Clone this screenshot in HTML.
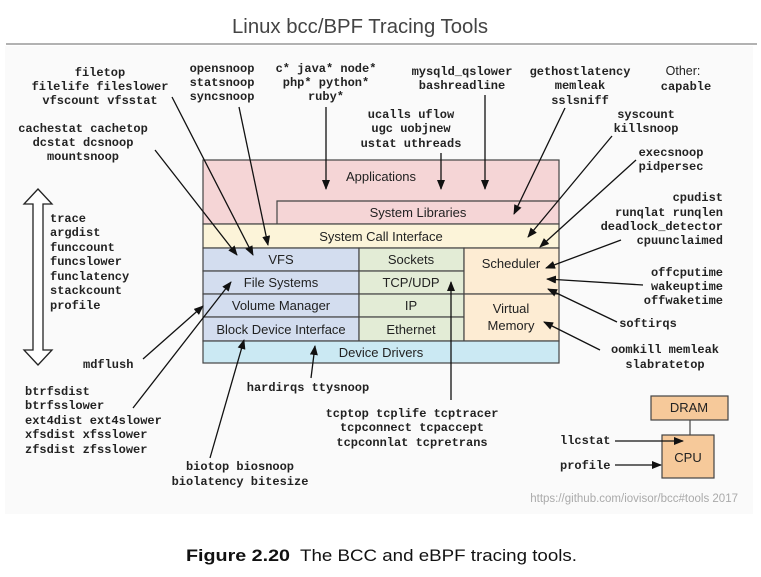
<!DOCTYPE html>
<html><head><meta charset="utf-8"><style>
html,body{margin:0;padding:0;background:#fff;}
svg{display:block;}
.m{font-family:"Liberation Mono",monospace;font-size:12px;font-weight:bold;fill:#222;}
.s{font-family:"Liberation Sans",sans-serif;font-size:13px;fill:#222;}
</style></head><body>
<svg width="761" height="577" viewBox="0 0 761 577" xmlns="http://www.w3.org/2000/svg">
<defs><marker id="a" markerWidth="10" markerHeight="8" refX="9" refY="4" orient="auto" markerUnits="userSpaceOnUse"><path d="M0,0 L10,4 L0,8 z" fill="#111"/></marker></defs>
<rect x="5" y="46" width="748" height="468" fill="#fafafa"/>
<text x="232" y="33" font-family="Liberation Sans,sans-serif" font-size="20" fill="#444" textLength="256" lengthAdjust="spacingAndGlyphs">Linux bcc/BPF Tracing Tools</text>
<line x1="6" y1="44" x2="757" y2="44" stroke="#666" stroke-width="1"/>

<g stroke="#444" stroke-width="1.2">
<rect x="203" y="160" width="356" height="64" fill="#f5d5d6"/>
<path d="M277,224 V201 H559" fill="none"/>
<rect x="203" y="224" width="356" height="24" fill="#fcf4d9"/>
<rect x="203" y="248" width="156" height="23" fill="#d3ddef"/>
<rect x="203" y="271" width="156" height="23" fill="#d3ddef"/>
<rect x="203" y="294" width="156" height="23" fill="#d3ddef"/>
<rect x="203" y="317" width="156" height="24" fill="#d3ddef"/>
<rect x="359" y="248" width="105" height="23" fill="#e3ecd6"/>
<rect x="359" y="271" width="105" height="23" fill="#e3ecd6"/>
<rect x="359" y="294" width="105" height="23" fill="#e3ecd6"/>
<rect x="359" y="317" width="105" height="24" fill="#e3ecd6"/>
<rect x="464" y="248" width="95" height="46" fill="#fdecd3"/>
<rect x="464" y="294" width="95" height="47" fill="#fdecd3"/>
<rect x="203" y="341" width="356" height="22" fill="#cbe9f3"/>
<rect x="651" y="396" width="77" height="24" fill="#f6c99a"/>
<rect x="662" y="435" width="52" height="43" fill="#f6c99a"/>
<line x1="690" y1="420" x2="690" y2="435"/>
</g>
<g class="s" text-anchor="middle">
<text x="381" y="181">Applications</text>
<text x="418" y="217">System Libraries</text>
<text x="381" y="241">System Call Interface</text>
<text x="281" y="264">VFS</text>
<text x="281" y="287">File Systems</text>
<text x="281" y="310">Volume Manager</text>
<text x="281" y="334">Block Device Interface</text>
<text x="411" y="264">Sockets</text>
<text x="411" y="287">TCP/UDP</text>
<text x="411" y="310">IP</text>
<text x="411" y="334">Ethernet</text>
<text x="511" y="268">Scheduler</text>
<text x="511" y="313">Virtual</text>
<text x="511" y="330">Memory</text>
<text x="381" y="357">Device Drivers</text>
<text x="689" y="412">DRAM</text>
<text x="688" y="462">CPU</text>
<text x="683" y="75" font-size="12.5">Other:</text>
</g>

<g class="m" text-anchor="middle">
<text x="100" y="76">filetop</text><text x="100" y="90">filelife fileslower</text><text x="100" y="104">vfscount vfsstat</text>
<text x="83" y="132">cachestat cachetop</text><text x="83" y="146">dcstat dcsnoop</text><text x="83" y="160">mountsnoop</text>
<text x="222" y="72">opensnoop</text><text x="222" y="86">statsnoop</text><text x="222" y="100">syncsnoop</text>
<text x="326" y="72">c* java* node*</text><text x="326" y="86">php* python*</text><text x="326" y="100">ruby*</text>
<text x="411" y="118">ucalls uflow</text><text x="411" y="132">ugc uobjnew</text><text x="411" y="147">ustat uthreads</text>
<text x="462" y="75">mysqld_qslower</text><text x="462" y="89">bashreadline</text>
<text x="580" y="75">gethostlatency</text><text x="580" y="89">memleak</text><text x="580" y="104">sslsniff</text>
<text x="686" y="90">capable</text>
<text x="646" y="118">syscount</text><text x="646" y="132">killsnoop</text>
<text x="671" y="156">execsnoop</text><text x="671" y="170">pidpersec</text>
<text x="648" y="327">softirqs</text>
<text x="665" y="353">oomkill memleak</text><text x="665" y="368">slabratetop</text>
<text x="308" y="391">hardirqs ttysnoop</text>
<text x="412" y="417">tcptop tcplife tcptracer</text><text x="412" y="431">tcpconnect tcpaccept</text><text x="412" y="446">tcpconnlat tcpretrans</text>
<text x="240" y="470">biotop biosnoop</text><text x="240" y="485">biolatency bitesize</text>
</g>
<g class="m" text-anchor="end">
<text x="723" y="201">cpudist</text><text x="723" y="216">runqlat runqlen</text><text x="723" y="230">deadlock_detector</text><text x="723" y="244">cpuunclaimed</text>
<text x="723" y="276">offcputime</text><text x="723" y="290">wakeuptime</text><text x="723" y="304">offwaketime</text>
</g>
<g class="m">
<text x="50" y="222">trace</text><text x="50" y="236">argdist</text><text x="50" y="251">funccount</text><text x="50" y="265">funcslower</text><text x="50" y="280">funclatency</text><text x="50" y="294">stackcount</text><text x="50" y="309">profile</text>
<text x="83" y="368">mdflush</text>
<text x="25" y="395">btrfsdist</text><text x="25" y="409">btrfsslower</text><text x="25" y="424">ext4dist ext4slower</text><text x="25" y="438">xfsdist xfsslower</text><text x="25" y="453">zfsdist zfsslower</text>
<text x="560" y="444">llcstat</text><text x="560" y="469">profile</text>
</g>

<g stroke="#111" stroke-width="1.3" fill="none" marker-end="url(#a)">
<line x1="172" y1="97" x2="253" y2="255"/>
<line x1="155" y1="150" x2="237" y2="255"/>
<line x1="239" y1="107" x2="268" y2="245"/>
<line x1="326" y1="107" x2="326" y2="189"/>
<line x1="441" y1="153" x2="441" y2="189"/>
<line x1="485" y1="95" x2="485" y2="189"/>
<line x1="565" y1="108" x2="514" y2="214"/>
<line x1="612" y1="136" x2="528" y2="237"/>
<line x1="636" y1="160" x2="540" y2="247"/>
<line x1="621" y1="240" x2="546" y2="268"/>
<line x1="643" y1="285" x2="547" y2="279"/>
<line x1="617" y1="322" x2="548" y2="289"/>
<line x1="600" y1="350" x2="544" y2="322"/>
<line x1="143" y1="359" x2="203" y2="306"/>
<line x1="133" y1="408" x2="231" y2="282"/>
<line x1="210" y1="458" x2="244" y2="340"/>
<line x1="311" y1="378" x2="315" y2="346"/>
<line x1="451" y1="400" x2="451" y2="282"/>
<line x1="615" y1="441" x2="683" y2="441"/>
<line x1="615" y1="465" x2="661" y2="465"/>
</g>
<path d="M33,350 V204 H24 L38,189 L52,204 H43 V350 H52 L38,365 L24,350 Z" fill="#fff" stroke="#222" stroke-width="1.3"/>

<text x="738" y="502" text-anchor="end" font-family="Liberation Sans,sans-serif" font-size="11.5" fill="#aaa">https://github.com/iovisor/bcc#tools 2017</text>
<text x="186" y="561" font-family="Liberation Sans,sans-serif" font-size="17" fill="#111" font-weight="bold" textLength="104" lengthAdjust="spacingAndGlyphs">Figure 2.20</text>
<text x="300" y="561" font-family="Liberation Sans,sans-serif" font-size="17" fill="#111" textLength="277" lengthAdjust="spacingAndGlyphs">The BCC and eBPF tracing tools.</text>
</svg>
</body></html>
